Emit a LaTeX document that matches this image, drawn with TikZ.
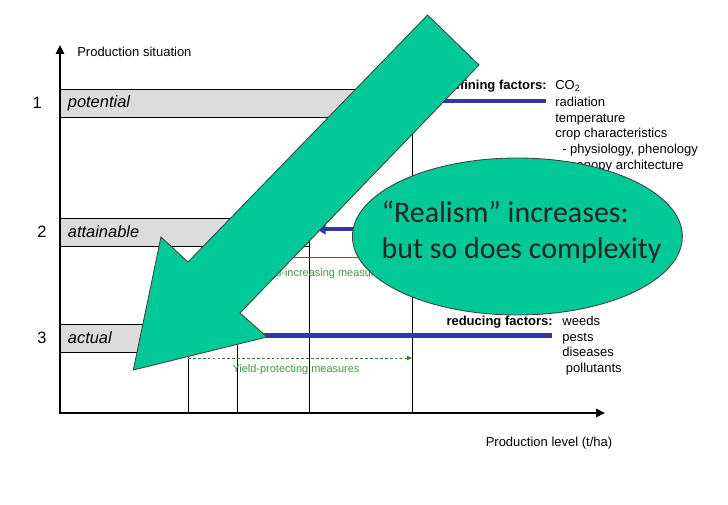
\documentclass[tikz,border=0pt]{standalone}
\usepackage{fontspec}
\setmainfont{Liberation Sans}
\newfontfamily\bubblefont{Carlito}
\usepackage{tikz}
\usetikzlibrary{shapes.geometric, arrows.meta, positioning}
\definecolor{BarGray}{HTML}{DCDCDC}
\definecolor{FactorBlue}{HTML}{3434B4}
\definecolor{MeasureGreen}{HTML}{3F9A3F}
\definecolor{RealismGreen}{HTML}{00C896}
\tikzset{
  % Bar and line styles
  levelbar/.style={draw=black, line width=0.7pt, fill=BarGray},
  yieldline/.style={draw=black, line width=0.7pt},
  axisline/.style={{Triangle[length=2.2mm,width=2mm]}-{Triangle[length=2.2mm,width=2mm]}, line width=2pt, black},
  % Arrow styles
  factorarrow/.style={-{Triangle[length=2.2mm,width=2.6mm]}, line width=3.2pt, FactorBlue},
  measurearrow/.style={-{Triangle[length=1.3mm,width=1.1mm]}, line width=0.6pt, MeasureGreen!80!black},
  bigarrow/.style={fill=RealismGreen, draw=black!75, line width=0.6pt},
  % Text styles
  levelnum/.style={font=\fontsize{11.7pt}{14pt}\selectfont, inner sep=0pt},
  levelname/.style={font=\fontsize{11.7pt}{14pt}\selectfont\itshape, inner sep=0pt, anchor=west},
  axislabel/.style={font=\fontsize{9.25pt}{11pt}\selectfont, inner sep=0pt},
  factorlabel/.style={font=\fontsize{9.25pt}{11pt}\selectfont\bfseries, inner sep=0pt, anchor=base east},
  factorlist/.style={font=\fontsize{9.25pt}{11.2pt}\selectfont, inner sep=0pt, align=left, anchor=base west},
  measurelabel/.style={font=\fontsize{7.8pt}{9pt}\selectfont, text=MeasureGreen, inner sep=0pt},
  bubble/.style={ellipse, fill=RealismGreen, draw=black!75, line width=0.6pt, minimum width=8.25cm, minimum height=3.925cm, inner sep=0pt},
  bubbletext/.style={font=\bubblefont\fontsize{21.3pt}{25.6pt}\selectfont, text=black!85, align=left, inner sep=0pt}
}
\begin{document}
\begin{tikzpicture}
  \useasboundingbox (0,0) rectangle (18.2,12.6);

  % Production situations
  \draw[levelbar] (1.5,9.675) rectangle (10.3,10.375);
  \draw[levelbar] (1.5,6.45) rectangle (7.725,7.15);
  \draw[levelbar] (1.5,3.8) rectangle (4.7,4.5);
  \node[levelnum] (num1) at (0.93,10.025) {1};
  \node[levelnum] (num2) at (1.05,6.8) {2};
  \node[levelnum] (num3) at (1.05,4.15) {3};
  \node[levelname] (potential) at (1.69,10.025) {potential};
  \node[levelname] (attainable) at (1.69,6.8) {attainable};
  \node[levelname] (actual) at (1.69,4.15) {actual};

  % Yield levels
  \draw[yieldline] (4.7,3.8) -- (4.7,2.275);
  \draw[yieldline] (5.925,6.45) -- (5.925,2.275);
  \draw[yieldline] (7.725,6.45) -- (7.725,2.275);
  \draw[yieldline] (10.3,9.675) -- (10.3,2.275);

  % Axes
  \coordinate (ytop) at (1.5,11.475);
  \coordinate (origin) at (1.5,2.275);
  \coordinate (xend) at (15.125,2.275);
  \draw[axisline] (ytop) -- (origin) -- (xend);
  \node[axislabel, anchor=west] (ylabel) at (1.925,11.31) {Production situation};
  \node[axislabel] (xlabel) at (13.725,1.525) {Production level (t/ha)};

  % Measures
  \coordinate (incStart) at (5.925,6.175);
  \coordinate (incEnd) at (10.3,6.175);
  \coordinate (protStart) at (4.7,3.65);
  \coordinate (protEnd) at (10.3,3.65);
  \draw[measurearrow] (incStart) -- (incEnd);
  \draw[measurearrow, dash pattern=on 2pt off 1.5pt] (protStart) -- (protEnd);
  \node[measurelabel] (inclabel) at (8.045,5.75) {Yield-increasing measures};
  \node[measurelabel] (protlabel) at (7.4,3.37) {Yield-protecting measures};

  % Factors (lists placed by their last baseline)
  \node[factorlabel] (definelabel) at (13.675,10.367) {defining factors:};
  \node[factorlist] (definelist) at (13.875,8.3675)
    {CO\textsubscript{2}\\[1pt] radiation\\ temperature\\ crop characteristics\\ \hspace{5pt}- physiology, phenology\\ \hspace{5pt}- canopy architecture};
  \node[factorlabel] (reducelabel) at (13.825,4.4575) {reducing factors:};
  \node[factorlist] (reducelist) at (14.055,3.2825)
    {weeds\\ pests\\ diseases\\ \hspace{2.5pt}pollutants};
  \coordinate (defineEnd) at (13.64,10.08);
  \coordinate (potentialEnd) at (10.3,10.08);
  \coordinate (limitEnd) at (13.6,6.87);
  \coordinate (attainableEnd) at (7.92,6.87);
  \coordinate (reduceEnd) at (13.79,4.21);
  \coordinate (actualEnd) at (5.925,4.21);
  \draw[factorarrow] (defineEnd) -- (potentialEnd);
  \draw[factorarrow] (limitEnd) -- (attainableEnd);
  \draw[factorarrow] (reduceEnd) -- (actualEnd);

  % Big arrow
  \filldraw[bigarrow] (10.69,12.225) -- (11.975,10.975) -- (6.0,4.775) -- (6.675,4.175)
    -- (3.333,3.35) -- (4.025,6.675) -- (4.7,6.05) -- cycle;

  % Realism bubble
  \node[bubble] (realism) at (12.935,6.6875) {};
  \node[bubbletext] (realismtext) at (13.04,6.79) {“Realism” increases:\\but so does complexity};
\end{tikzpicture}
\end{document}
